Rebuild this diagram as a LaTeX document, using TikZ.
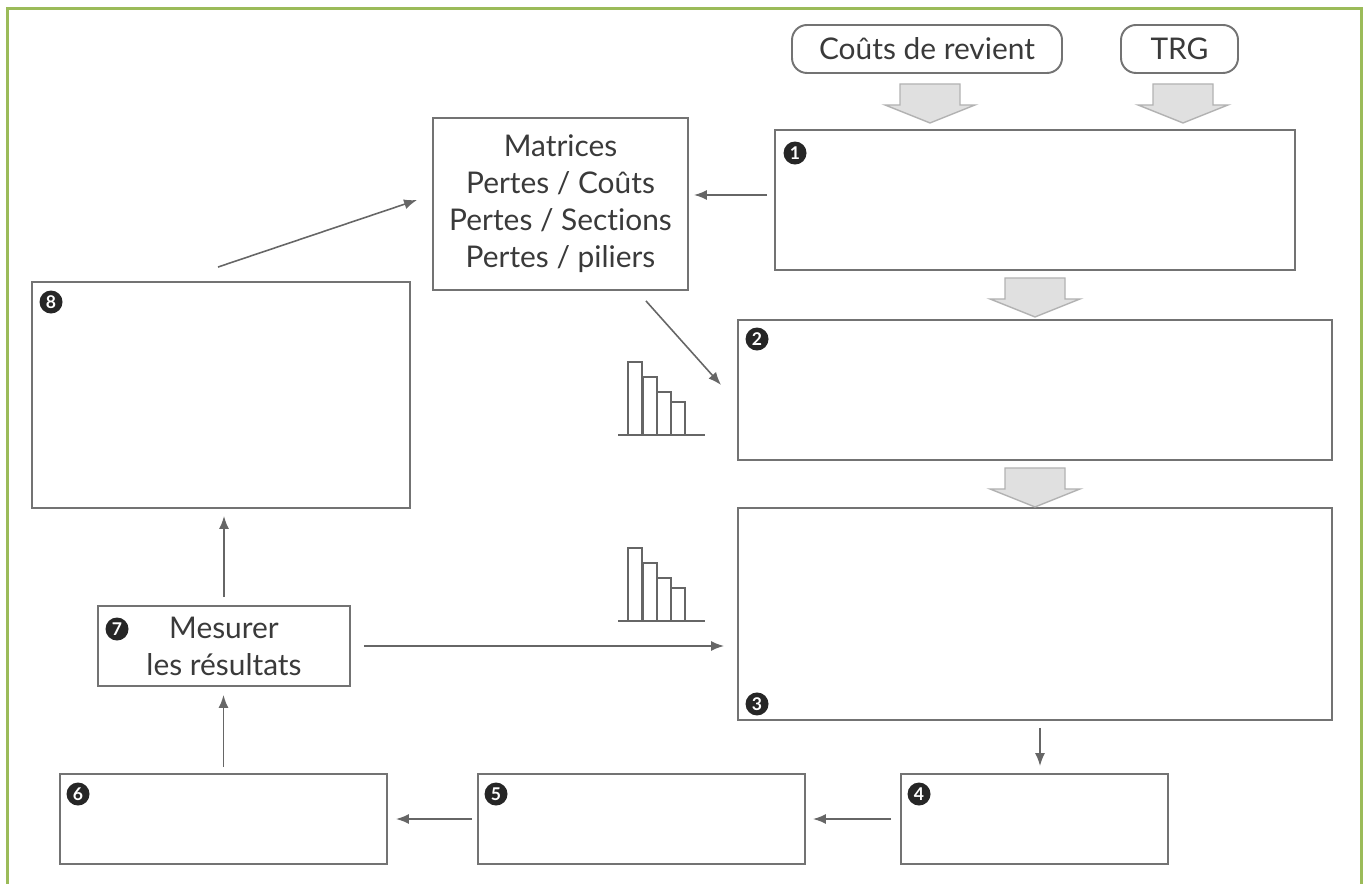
\documentclass[tikz,border=0pt]{standalone}
\usepackage{fontspec}
\setmainfont{Lato}[Ligatures=NoCommon]
\usetikzlibrary{arrows.meta,calc,positioning}
\definecolor{framegreen}{HTML}{9BBB59}
\definecolor{inkgray}{HTML}{3A3A3A}

\tikzset{
    stepbox/.style={draw=black!55, line width=1.1pt, fill=white, inner sep=0pt},
    sourcebox/.style={stepbox, rounded corners=0.3cm, minimum height=0.96cm},
    badge/.style={circle, fill=black!85, text=white, inner sep=0pt, minimum size=0.46cm,
        font=\fontsize{10}{10}\selectfont\bfseries},
    arr/.style={-{Latex[length=0.26cm,width=0.2cm]}, draw=black!60, line width=0.9pt},
    blockarrow/.style={fill=black!12, draw=black!30, line width=0.8pt},
    downarrow/.pic={
        \draw[blockarrow] (-0.6,0) -- (0.6,0) -- (0.6,-0.42) -- (0.9,-0.42) -- (0,-0.78)
            -- (-0.9,-0.42) -- (-0.6,-0.42) -- cycle;
    },
    barchart/.pic={
        \draw[black!60, line width=0.8pt] (0,0) -- (1.74,0);
        \foreach \x/\h in {0.2/1.46, 0.5/1.16, 0.78/0.86, 1.06/0.66}{
            \draw[black!60, line width=0.8pt] (\x,0) rectangle ++(0.28,\h);
        }
    }
}

\begin{document}
\begin{tikzpicture}[>=Latex, font=\fontsize{17}{21}\selectfont, text=inkgray]
    \useasboundingbox (0,0) rectangle (27.34,-17.68);
    \draw[framegreen, line width=0.06cm] (0.14,-17.68) -- (0.14,-0.18) -- (27.22,-0.18) -- (27.22,-17.68);

    % sources
    \node[sourcebox, minimum width=5.4cm] (cost) at (18.54,-0.98) {Coûts de revient};
    \node[sourcebox, minimum width=2.34cm] (trg) at (23.59,-0.98) {TRG};

    % steps
    \node[stepbox, minimum width=10.4cm, minimum height=2.8cm] (step1) at (20.7,-4.0) {};
    \node[stepbox, minimum width=5.1cm, minimum height=3.44cm, align=center] (matrices) at (11.21,-4.08)
        {Matrices\\Pertes / Coûts\\Pertes / Sections\\Pertes / piliers};
    \node[stepbox, minimum width=11.88cm, minimum height=2.8cm] (step2) at (20.7,-7.8) {};
    \node[stepbox, minimum width=11.88cm, minimum height=4.24cm] (step3) at (20.7,-12.28) {};
    \node[stepbox, minimum width=7.56cm, minimum height=4.52cm] (step8) at (4.42,-7.9) {};
    \node[stepbox, minimum width=5.04cm, minimum height=1.6cm, align=center] (step7) at (4.48,-12.92)
        {Mesurer\\les résultats};
    \node[stepbox, minimum width=5.34cm, minimum height=1.8cm] (step4) at (20.69,-16.38) {};
    \node[stepbox, minimum width=6.54cm, minimum height=1.8cm] (step5) at (12.83,-16.38) {};
    \node[stepbox, minimum width=6.54cm, minimum height=1.8cm] (step6) at (4.47,-16.38) {};

    % numbers
    \node[badge] (b1) at ([shift={(0.42,-0.48)}]step1.north west) {1};
    \node[badge] (b2) at ([shift={(0.4,-0.4)}]step2.north west) {2};
    \node[badge] (b3) at ([shift={(0.4,0.34)}]step3.south west) {3};
    \node[badge] (b4) at ([shift={(0.38,-0.42)}]step4.north west) {4};
    \node[badge] (b5) at ([shift={(0.38,-0.42)}]step5.north west) {5};
    \node[badge] (b6) at ([shift={(0.38,-0.42)}]step6.north west) {6};
    \node[badge] (b7) at ([shift={(0.4,-0.48)}]step7.north west) {7};
    \node[badge] (b8) at ([shift={(0.4,-0.42)}]step8.north west) {8};

    % block arrows
    \pic at ($(cost.south)+(0.06,-0.2)$) {downarrow};
    \pic at ($(trg.south)+(0.07,-0.2)$) {downarrow};
    \pic at ($(step1.south)+(0,-0.14)$) {downarrow};
    \pic at ($(step2.south)+(0,-0.14)$) {downarrow};

    % bar charts
    \pic at (12.36,-8.7) {barchart};
    \pic at (12.36,-12.42) {barchart};

    % connectors
    \coordinate (m1) at ([shift={(-0.86,-0.2)}]matrices.south east);
    \coordinate (s2) at ([shift={(-0.32,0.1)}]step2.west);
    \coordinate (s8) at ([shift={(-0.06,0.28)}]step8.north);
    \coordinate (m2) at ([shift={(-0.3,0.08)}]matrices.west);
    \draw[arr, shorten <=0.14cm, shorten >=0.1cm] ([yshift=0.1cm]step1.west) -- ([yshift=0.1cm]step1.west -| matrices.east);
    \draw[arr] (m1) -- (s2);
    \draw[arr] (s8) -- (m2);
    \draw[arr, shorten <=0.16cm, shorten >=0.14cm] (step7.north) -- (step7.north |- step8.south);
    \draw[arr, shorten <=0.26cm, shorten >=0.26cm] (step7.east) -- (step7.east -| step3.west);
    \draw[arr, shorten <=0.14cm, shorten >=0.14cm] ([xshift=0.1cm]step3.south) -- ([xshift=0.1cm]step3.south |- step4.north);
    \draw[arr, shorten <=0.18cm, shorten >=0.14cm] (step4.west) -- (step5.east);
    \draw[arr, shorten <=0.1cm, shorten >=0.16cm] (step5.west) -- (step6.east);
    \draw[arr, shorten <=0.12cm, shorten >=0.16cm] (step6.north) -- (step6.north |- step7.south);
\end{tikzpicture}
\end{document}
